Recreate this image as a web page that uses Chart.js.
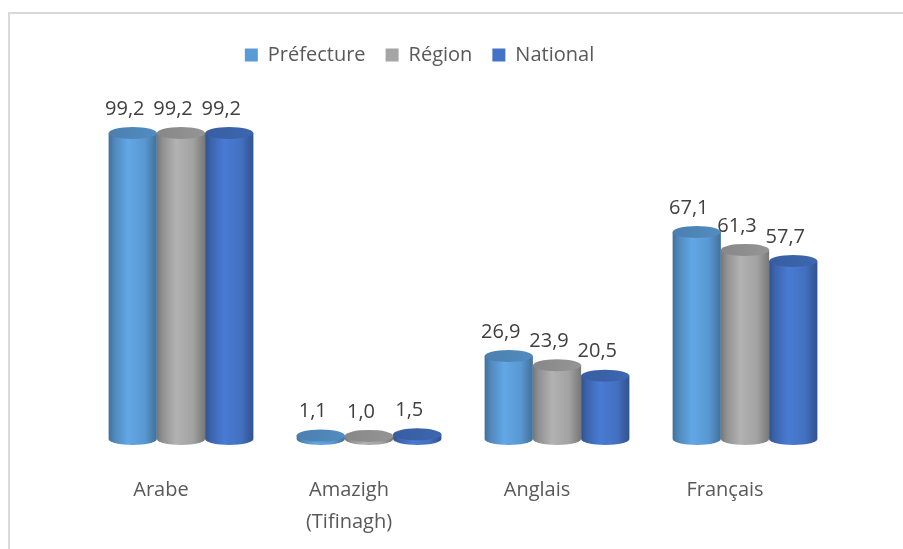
<!DOCTYPE html>
<html lang="fr">
<head>
    <meta charset="UTF-8">
    <script src="https://cdn.jsdelivr.net/npm/chart.js"></script>
    <title>Langues</title>
    <style>
        * { margin: 0; padding: 0; box-sizing: border-box; }
        body { background: #fff; width: 903px; height: 549px; overflow: hidden; position: relative; }
        .frame { position: absolute; left: 8px; top: 12px; right: -5px; bottom: -5px; border-top: 2px solid #d9d9d9; border-left: 2px solid #d9d9d9; }
        canvas { position: absolute; left: 0; top: 0; }
    </style>
</head>
<body>
    <div class="frame"></div>
    <canvas id="chart" width="903" height="549"></canvas>
<script>
    // données
    const categories = ['Arabe', ['Amazigh', '(Tifinagh)'], 'Anglais', 'Français'];
    const seriesNames = ['Préfecture', 'Région', 'National'];
    const prefecture = [99.2, 1.1, 26.9, 67.1];
    const region = [99.2, 1.0, 23.9, 61.3];
    const national = [99.2, 1.5, 20.5, 57.7];
    const colors = ['#5B9BD5', '#A5A5A5', '#4472C4'];

    const FONT = '"Open Sans", sans-serif';

    const shade = (hex, f) => {
        const n = parseInt(hex.slice(1), 16);
        const c = [(n >> 16) & 255, (n >> 8) & 255, n & 255].map(v => Math.max(0, Math.min(255, Math.round(v * f))));
        return 'rgb(' + c.join(',') + ')';
    };

    // cylindres 3D dessinés à la place des barres
    const cylinders = {
        id: 'cylinders',
        beforeDatasetsDraw(chart) {
            const ctx = chart.ctx;
            const ry = 6;
            chart.data.datasets.forEach((ds, i) => {
                const meta = chart.getDatasetMeta(i);
                const col = ds.backgroundColor;
                meta.data.forEach((bar, j) => {
                    const { x, y, base, width } = bar.getProps(['x', 'y', 'base', 'width'], true);
                    const l = x - width / 2, r = x + width / 2, rx = width / 2;
                    ctx.save();
                    const g = ctx.createLinearGradient(l, 0, r, 0);
                    g.addColorStop(0, shade(col, 0.72));
                    g.addColorStop(0.12, shade(col, 0.88));
                    g.addColorStop(0.4, shade(col, 1.08));
                    g.addColorStop(0.75, shade(col, 0.98));
                    g.addColorStop(1, shade(col, 0.72));
                    ctx.fillStyle = g;
                    ctx.beginPath();
                    ctx.moveTo(l, y);
                    ctx.lineTo(l, base);
                    ctx.ellipse(x, base, rx, ry, 0, Math.PI, 0, true);
                    ctx.lineTo(r, y);
                    ctx.closePath();
                    ctx.fill();
                    // dessus
                    const gt = ctx.createLinearGradient(l, 0, r, 0);
                    gt.addColorStop(0, shade(col, 0.82));
                    gt.addColorStop(1, shade(col, 0.9));
                    ctx.fillStyle = gt;
                    ctx.beginPath();
                    ctx.ellipse(x, y, rx, ry, 0, 0, Math.PI * 2);
                    ctx.fill();
                    ctx.restore();
                });
            });
            return false;
        },
        afterDraw(chart) {
            const ctx = chart.ctx;
            ctx.save();
            ctx.font = '20px ' + FONT;
            ctx.fillStyle = '#404040';
            ctx.textAlign = 'center';
            ctx.textBaseline = 'middle';
            chart.data.datasets.forEach((ds, i) => {
                chart.getDatasetMeta(i).data.forEach((bar, j) => {
                    const txt = ds.data[j].toFixed(1).replace('.', ',');
                    ctx.fillText(txt, bar.x - 8, bar.y - 24);
                });
            });
            ctx.restore();
        }
    };

    const chart = new Chart(document.getElementById('chart').getContext('2d'), {
        type: 'bar',
        data: {
            labels: categories,
            datasets: [prefecture, region, national].map((d, i) => ({
                label: seriesNames[i],
                data: d,
                backgroundColor: colors[i],
                borderWidth: 0,
                barPercentage: 1,
                categoryPercentage: 0.77
            }))
        },
        options: {
            responsive: false,
            animation: false,
            devicePixelRatio: 1,
            layout: { padding: { left: 0, right: 64, top: 25, bottom: 0 } },
            plugins: {
                legend: {
                    position: 'top',
                    labels: {
                        boxWidth: 13,
                        boxHeight: 13,
                        padding: 20,
                        color: '#595959',
                        font: { family: FONT, size: 20 }
                    }
                },
                tooltip: { enabled: false }
            },
            scales: {
                x: {
                    grid: { display: false },
                    border: { display: false },
                    ticks: {
                        color: '#595959',
                        padding: 27,
                        labelOffset: -20,
                        maxRotation: 0,
                        font: { family: FONT, size: 20, lineHeight: 1.6 }
                    },
                    afterFit(scale) { scale.height = 110; }
                },
                y: {
                    min: 0,
                    max: 118,
                    grid: { display: false },
                    border: { display: false },
                    ticks: { display: false },
                    afterFit(scale) { scale.width = 87; }
                }
            }
        },
        plugins: [cylinders]
    });
</script>
</body>
</html>
